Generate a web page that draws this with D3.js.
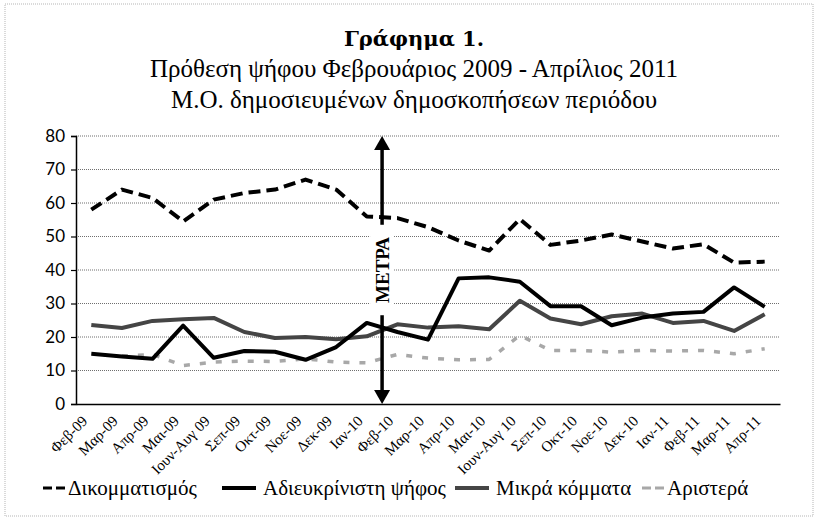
<!DOCTYPE html>
<html>
<head>
<meta charset="utf-8">
<script src="https://cdn.jsdelivr.net/npm/d3@7"></script>
<style>
  body { margin: 0; background: #fff; }
  svg { display: block; }
</style>
</head>
<body>
<svg id="chart" width="820" height="523"></svg>
<script>
// categories (x axis)
const months = ["Φεβ-09", "Μαρ-09", "Απρ-09", "Μαι-09", "Ιουν-Αυγ 09", "Σεπ-09", "Οκτ-09",
    "Νοε-09", "Δεκ-09", "Ιαν-10", "Φεβ-10", "Μαρ-10", "Απρ-10", "Μαι-10", "Ιουν-Αυγ 10",
    "Σεπ-10", "Οκτ-10", "Νοε-10", "Δεκ-10", "Ιαν-11", "Φεβ-11", "Μαρ-11", "Απρ-11"];

// series values
const dikommatismos = [58, 64, 61.5, 54.5, 61, 63, 64, 67, 64, 56, 55.5, 52.8, 48.8, 45.8, 55.2,
    47.5, 48.8, 50.6, 48.5, 46.4, 47.7, 42.2, 42.5];
const adieukrinisti = [15, 14.2, 13.5, 23.4, 13.8, 15.8, 15.6, 13.2, 17, 24.2, 21.5, 19.2, 37.5,
    37.8, 36.5, 29.2, 29.2, 23.5, 25.8, 27, 27.5, 34.8, 29];
const mikra = [23.6, 22.7, 24.8, 25.3, 25.7, 21.5, 19.7, 20, 19.3, 20.2, 23.8, 22.8, 23.2, 22.3,
    30.8, 25.5, 23.8, 26.2, 27, 24.2, 24.8, 21.8, 26.8];
const aristera = [null, 14.3, 14.8, 11.5, 12.5, 12.8, 12.7, 13.5, 12.5, 12.3, 14.8, 13.7, 13.2,
    13.3, 20.5, 16, 16, 15.5, 16, 15.8, 16, 15, 16.5];

const yTicks = [0, 10, 20, 30, 40, 50, 60, 70, 80];

const titleLines = ["Γράφημα 1.", "Πρόθεση ψήφου Φεβρουάριος 2009 - Απρίλιος 2011",
    "Μ.Ο. δημοσιευμένων δημοσκοπήσεων περιόδου"];
const measureLabel = "ΜΕΤΡΑ";

// drawing order: lightest first so the dark lines sit on top
const series = [
    {name: "Αριστερά", values: aristera, color: "#a8a8a8", width: 3.5, dash: "6,10"},
    {name: "Μικρά κόμματα", values: mikra, color: "#454545", width: 4, dash: null},
    {name: "Αδιευκρίνιστη ψήφος", values: adieukrinisti, color: "#000", width: 4, dash: null},
    {name: "Δικομματισμός", values: dikommatismos, color: "#000", width: 4, dash: "12,6"}
];

const serif = "'Liberation Serif', 'DejaVu Serif', serif";
const svg = d3.select("#chart");

// dotted frame round the whole picture
svg.append("rect")
    .attr("x", 5).attr("y", 4).attr("width", 808).attr("height", 512)
    .attr("fill", "none")
    .attr("stroke", "#b5b5b5")
    .attr("stroke-dasharray", "1,1");

// titles
svg.append("text")
    .attr("x", 414).attr("y", 46)
    .attr("text-anchor", "middle")
    .style("font-family", "'DejaVu Serif', serif")
    .style("font-weight", "bold")
    .style("font-size", "21px")
    .text(titleLines[0]);

svg.selectAll(".subtitle")
    .data(titleLines.slice(1))
    .join("text")
    .attr("class", "subtitle")
    .attr("x", 414)
    .attr("y", (d, i) => 77 + i * 31)
    .attr("text-anchor", "middle")
    .style("font-family", serif)
    .style("font-size", "25px")
    .text(d => d);

const plotLeft = 76, plotRight = 780, plotTop = 136, plotBottom = 404;

const x = d3.scaleBand().domain(months).range([plotLeft, plotRight]);
const y = d3.scaleLinear().domain([0, 80]).range([plotBottom, plotTop]);
const cx = d => x(d) + x.bandwidth() / 2;

// dotted gridlines
svg.append("g")
    .selectAll("line")
    .data(yTicks.slice(1))
    .join("line")
    .attr("x1", plotLeft).attr("x2", plotRight)
    .attr("y1", d => y(d)).attr("y2", d => y(d))
    .attr("stroke", "#6f6f6f")
    .attr("stroke-width", 1)
    .attr("stroke-dasharray", "1,1");

// y axis
const yAxis = svg.append("g")
    .attr("transform", `translate(${plotLeft},0)`)
    .call(d3.axisLeft(y).tickValues(yTicks).tickSize(5).tickPadding(6));
yAxis.select(".domain").attr("stroke", "#000").attr("stroke-width", 1.5);
yAxis.selectAll(".tick line").attr("stroke", "#000").attr("stroke-width", 1.2);
yAxis.selectAll("text")
    .style("font-family", "Lato, 'Liberation Sans', sans-serif")
    .style("font-size", "17px")
    .attr("fill", "#000");

// x axis, labels turned 45 degrees
const xAxis = svg.append("g")
    .attr("transform", `translate(0,${plotBottom})`)
    .call(d3.axisBottom(x).tickSize(0).tickPadding(0));
xAxis.select(".domain").attr("stroke", "#000").attr("stroke-width", 1.5);
xAxis.selectAll("text")
    .attr("text-anchor", "end")
    .attr("dy", null).attr("y", null)
    .attr("transform", "translate(-3,18) rotate(-45)")
    .style("font-family", serif)
    .style("font-size", "15px")
    .attr("fill", "#000");

// lines
const line = d3.line()
    .defined(d => d[1] != null)
    .x(d => cx(d[0]))
    .y(d => y(d[1]));

svg.append("g")
    .selectAll("path")
    .data(series)
    .join("path")
    .attr("d", s => line(months.map((m, i) => [m, s.values[i]])))
    .attr("fill", "none")
    .attr("stroke", s => s.color)
    .attr("stroke-width", s => s.width)
    .attr("stroke-dasharray", s => s.dash)
    .attr("stroke-linejoin", "round");

// the "measures" marker between Ιαν-10 and Φεβ-10
const mx = x("Φεβ-10");
const mark = svg.append("g");
mark.append("line")
    .attr("x1", mx).attr("x2", mx)
    .attr("y1", y(80) + 10).attr("y2", y(0) - 10)
    .attr("stroke", "#000").attr("stroke-width", 3.5);
mark.append("path")
    .attr("d", `M${mx},${y(80)} l-8,14 l16,0 z`)
    .attr("fill", "#000");
mark.append("path")
    .attr("d", `M${mx},${y(0)} l-8,-14 l16,0 z`)
    .attr("fill", "#000");
mark.append("rect")
    .attr("x", mx - 12).attr("width", 24)
    .attr("y", y(53.5)).attr("height", y(26.5) - y(53.5))
    .attr("fill", "#fff");
mark.append("text")
    .attr("transform", `translate(${mx + 7},${y(40)}) rotate(-90)`)
    .attr("text-anchor", "middle")
    .style("font-family", serif)
    .style("font-weight", "bold")
    .style("font-size", "19px")
    .text(measureLabel);

// legend
const legendItems = [
    {name: "Δικομματισμός", x: 43, sym: "dash2", color: "#000"},
    {name: "Αδιευκρίνιστη ψήφος", x: 222, sym: "solid", color: "#000"},
    {name: "Μικρά κόμματα", x: 455, sym: "solid", color: "#454545"},
    {name: "Αριστερά", x: 642, sym: "dash2", color: "#a8a8a8"}
];
const ly = 488;
const legend = svg.append("g")
    .selectAll("g")
    .data(legendItems)
    .join("g")
    .attr("transform", d => `translate(${d.x},${ly})`);

legend.append("line")
    .attr("x1", 0)
    .attr("x2", d => d.sym === "solid" ? 34 : 22)
    .attr("y1", 0).attr("y2", 0)
    .attr("stroke", d => d.color)
    .attr("stroke-width", d => d.sym === "solid" ? 4 : 3)
    .attr("stroke-dasharray", d => d.sym === "solid" ? null : "9,4");

legend.append("text")
    .attr("x", d => d.sym === "solid" ? 41 : 25)
    .attr("y", 7)
    .style("font-family", serif)
    .style("font-size", "21px")
    .text(d => d.name);
</script>
</body>
</html>
